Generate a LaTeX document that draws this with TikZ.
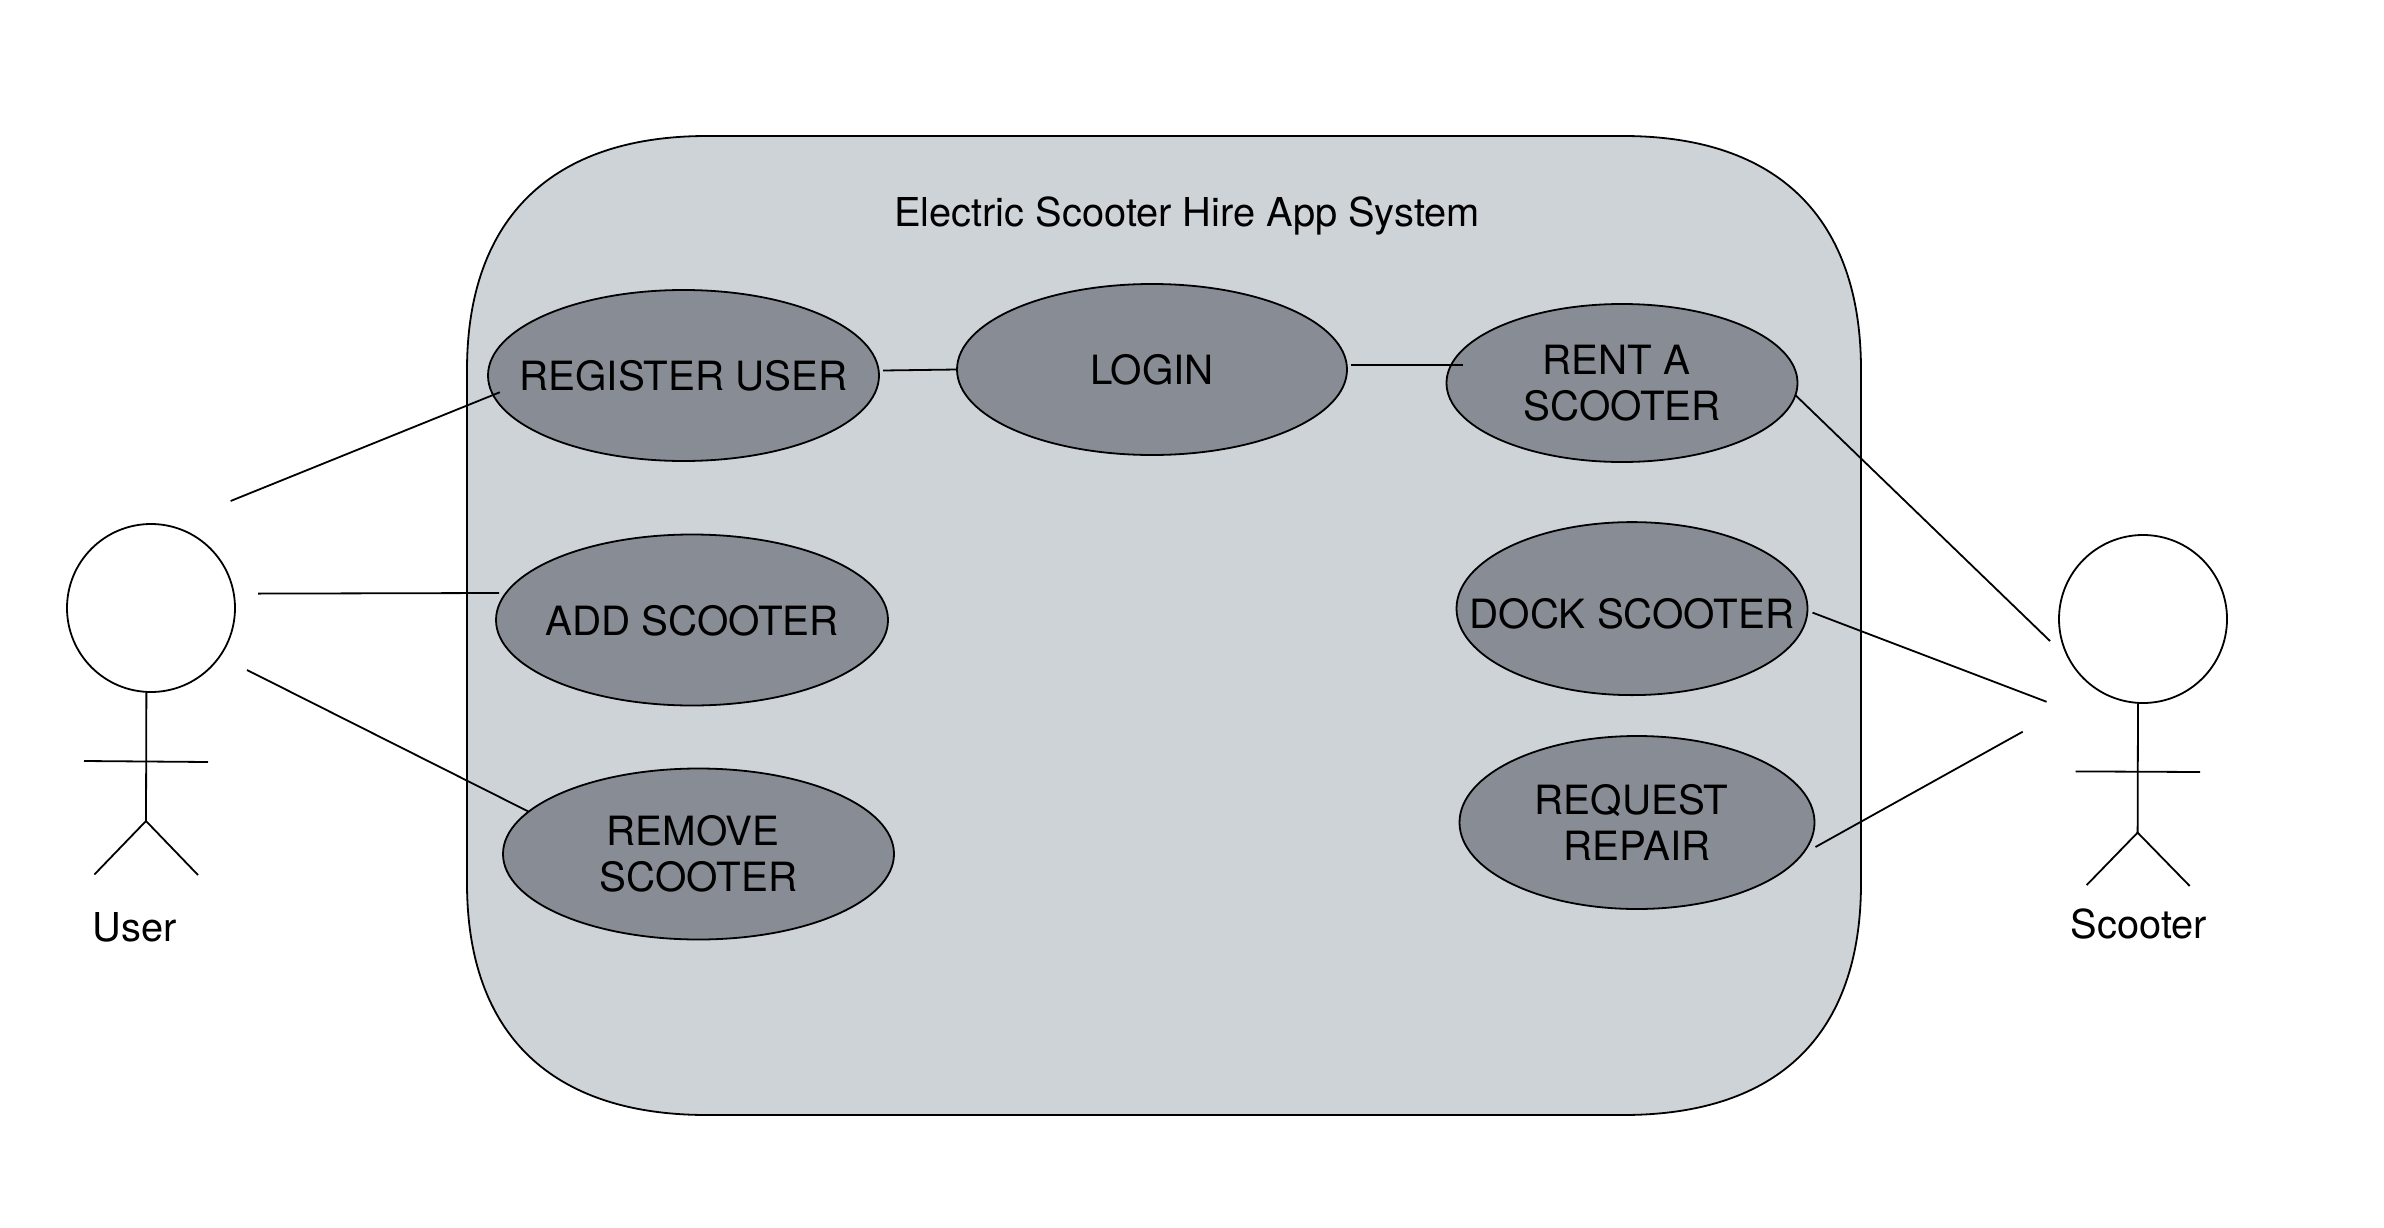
\documentclass[tikz,border=0pt]{standalone}
\usepackage{fontspec}
\setmainfont{TeX Gyre Heros}
\usetikzlibrary{shapes.geometric}
\definecolor{boxfill}{RGB}{206,211,216}
\definecolor{casefill}{RGB}{136,140,148}
\tikzset{
  ln/.style={line width=1.8pt,black},
  txt/.style={font=\fontsize{39.8}{46}\selectfont,inner sep=0pt,outer sep=0pt},
  usecase/.style={ln,draw,fill=casefill,shape=ellipse,inner sep=0pt,outer sep=0pt,align=center,
    font=\fontsize{40.3}{46}\selectfont,minimum width=#1},
  head/.style={ln,draw,fill=white,circle,minimum size=168pt,inner sep=0pt,outer sep=0pt},
}
\newcommand{\oneline}[1]{\makebox[0pt][c]{#1}}
\begin{document}
\begin{tikzpicture}[x=1pt,y=-1pt]
\useasboundingbox (0,0) rectangle (2384,1228);
\fill[white] (0,0) rectangle (2384,1228);
% system boundary
\path[ln,draw,fill=boxfill] (707,136) -- (1623,136)
  .. controls (1778,136) and (1861,218) .. (1861,370)
  -- (1861,883)
  .. controls (1861,1035) and (1778,1115) .. (1623,1115)
  -- (707,1115)
  .. controls (552,1115) and (467,1035) .. (467,883)
  -- (467,370)
  .. controls (467,218) and (552,136) .. (707,136) -- cycle;
\node[txt,anchor=base] (title) at (1187,226) {Electric Scooter Hire App System};
% use cases
\node[usecase=391pt,minimum height=171pt,text height=29pt,text depth=0pt] (reg) at (683.5,375.5) {\oneline{REGISTER USER}};
\node[usecase=390pt,minimum height=171pt,text height=29pt,text depth=0pt] (login) at (1152,369.5) {\oneline{LOGIN}};
\node[usecase=351pt,minimum height=158pt] (rent) at (1622,383) {RENT A\hspace*{11pt}\\SCOOTER};
\node[usecase=392pt,minimum height=171pt,text height=30pt,text depth=0pt] (add) at (692,620) {\oneline{ADD SCOOTER}};
\node[usecase=391pt,minimum height=171pt] (remove) at (698.5,854) {REMOVE\hspace*{11pt}\\SCOOTER};
\node[usecase=351pt,minimum height=173pt,text height=40pt,text depth=0pt] (dock) at (1632,608.6) {\oneline{DOCK SCOOTER}};
\node[usecase=355pt,minimum height=173pt] (request) at (1637,822.5) {REQUEST\hspace*{11pt}\\REPAIR};
% actors
\node[head] (userhead) at (151,608) {};
\coordinate (userneck) at (146.4,692);
\coordinate (userhip) at (146,821);
\coordinate (userarmL) at (84,761);
\coordinate (userarmR) at (208,762);
\coordinate (userfootL) at (94.4,874.5);
\coordinate (userfootR) at (198,875);
\draw[ln] (userneck) -- (userhip);
\draw[ln] (userarmL) -- (userarmR);
\draw[ln] (userfootL) -- (userhip) -- (userfootR);
\node[txt,anchor=base] (userlabel) at (135,941) {User};
\node[head] (scooterhead) at (2143,619) {};
\coordinate (scneck) at (2138,703);
\coordinate (schip) at (2137.6,832.6);
\coordinate (scarmL) at (2075.5,771.4);
\coordinate (scarmR) at (2200,772);
\coordinate (scfootL) at (2086.7,885);
\coordinate (scfootR) at (2189.7,886);
\draw[ln] (scneck) -- (schip);
\draw[ln] (scarmL) -- (scarmR);
\draw[ln] (scfootL) -- (schip) -- (scfootR);
\node[txt,anchor=base] (scooterlabel) at (2139,938.5) {Scooter};
% connector free ends
\coordinate (ua) at (230.6,501);
\coordinate (ub) at (258,593.6);
\coordinate (uc) at (247,670);
\coordinate (sa) at (2050,641);
\coordinate (sb) at (2046.6,701.8);
\coordinate (sc) at (2022.7,731.7);
% connectors
\draw[ln] (ua) -- ([xshift=8pt]reg.185);
\draw[ln] (ub) -- ([xshift=3pt,yshift=27pt]add.west);
\draw[ln] (uc) -- (remove.166);
\draw[ln] ([xshift=4pt,yshift=5pt]reg.east) -- (login.west);
\draw[ln] ([xshift=4pt,yshift=4.5pt]login.east) -- ([xshift=16.3pt,yshift=18pt]rent.west);
\draw[ln] (rent.-4) -- (sa);
\draw[ln] ([xshift=5pt,yshift=-4pt]dock.east) -- (sb);
\draw[ln] ([xshift=1pt,yshift=-24.5pt]request.east) -- (sc);
\end{tikzpicture}
\end{document}
